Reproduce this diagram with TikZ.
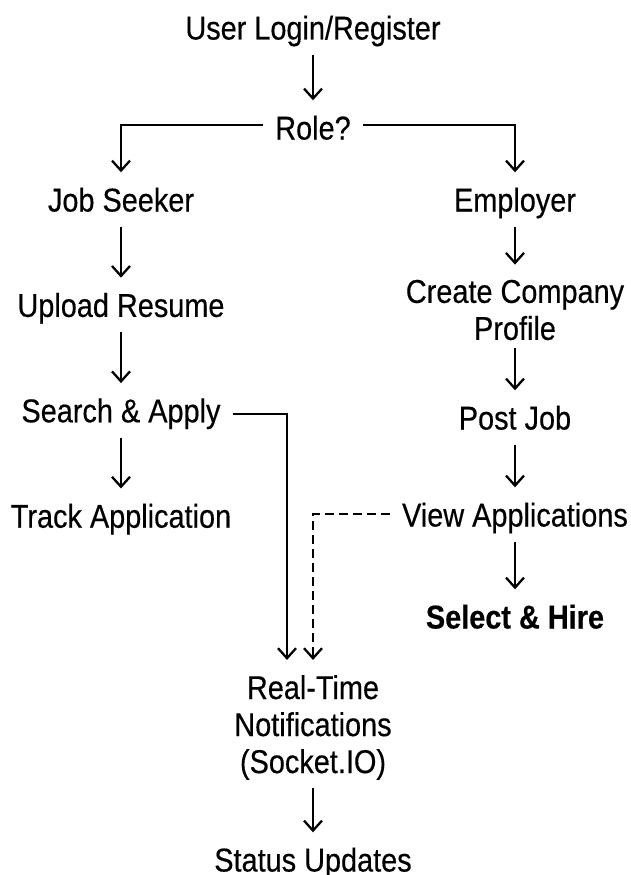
\documentclass[tikz,border=0pt]{standalone}
\usepackage{fontspec}
\setmainfont{Liberation Sans}[FakeStretch=0.875, FakeBold=0.4]
\usepackage{tikz}
\usetikzlibrary{arrows.meta, positioning}
\tikzstyle{stage}=[inner xsep=4pt, inner ysep=0pt, text height=24pt, text depth=7pt, align=center, font=\fontsize{33pt}{36pt}\selectfont]
\tikzstyle{stagetwo}=[inner xsep=4pt, inner ysep=0pt, align=center, font=\fontsize{33pt}{37pt}\selectfont]
\tikzstyle{arrow}=[line width=2.3pt, -{Straight Barb[length=10pt, width=18pt]}, shorten <=8pt, shorten >=15pt]
\tikzstyle{dasharrow}=[arrow, dash pattern=on 9pt off 5pt]

\begin{document}
\begin{tikzpicture}[x=1pt, y=-1pt, node distance=74pt]
		\useasboundingbox (0,0) rectangle (631,875);
		
		\node(n1)[stage] at (313,31) {User Login/Register};
		
		\node(n2)[stage] at (313,131) {Role?};
		
		
		\node(n2-1)[stage] at (121,203) {Job Seeker};
		\node(n2-1-1)[stage, below=of n2-1]{Upload Resume};
		\node(n2-1-2)[stage, below=of n2-1-1]{Search \& Apply};
		\node(n2-1-3)[stage, below=of n2-1-2]{Track Application};
		
		
		\node(n2-2)[stage] at (515,203) {Employer};
		\node(n2-2-1)[stagetwo] at (515,310) {Create Company\\Profile};
		\node(n2-2-2)[stage] at (515,421) {Post Job};
		\node(n2-2-3)[stage] at (515,518) {View Applications};
		\node(n2-2-4)[stage, font=\fontsize{33pt}{36pt}\selectfont\bfseries] at (515,620) {Select \& Hire};
		
		
		\node(n3)[stagetwo] at (313,727.5) {Real-Time\\Notifications\\(Socket.IO)};
		\node(n3-1)[stage] at (313,863) {Status Updates};
		
		
		\draw[arrow](n1)--(n2);
		\draw[arrow]([yshift=6pt]n2.west)-|(n2-1.north);
		\draw[arrow]([yshift=6pt]n2.east)-|(n2-2.north);
		\draw[arrow](n2-1)--(n2-1-1);
		\draw[arrow](n2-1-1)--(n2-1-2);
		\draw[arrow](n2-1-2)--(n2-1-3);
		\draw[arrow](n2-2)--(n2-2-1);
		\draw[arrow](n2-2-1)--(n2-2-2);
		\draw[arrow](n2-2-2)--(n2-2-3);
		\draw[arrow](n2-2-3)--(n2-2-4);
		\draw[arrow](n2-1-2.east)-|([xshift=-26pt]n3.north);
		\draw[dasharrow]([yshift=4pt]n2-2-3.west)-|(n3.north);
		\draw[arrow](n3)--(n3-1);
		
	\end{tikzpicture}
\end{document}
